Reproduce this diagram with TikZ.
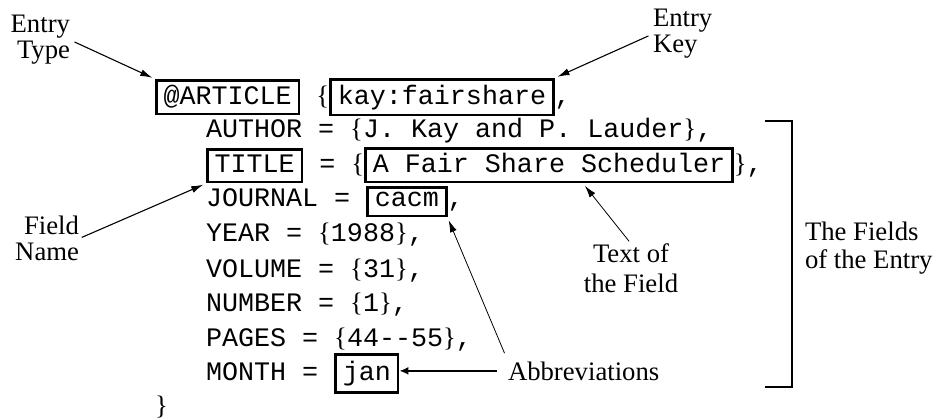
\documentclass[tikz,border=0pt]{standalone}
\usepackage{fontspec}
\setmainfont{Liberation Serif}
\setmonofont{Liberation Mono}
\usetikzlibrary{positioning,arrows.meta}
\newcommand{\obr}{{\rmfamily\{}}
\newcommand{\cbr}{{\rmfamily\}}}

\begin{document}
\begin{tikzpicture}[x=1pt,y=-1pt,->,>={Latex[length=12pt,width=7pt]},
  shorten >=3pt, line width=1.1pt, font=\fontsize{26.7}{26.5}\selectfont]
\tikzstyle{code}=[font=\fontsize{26.7}{26.5}\selectfont\ttfamily, inner sep=0pt, outer sep=0pt, anchor=base west]
\tikzstyle{bx}=[code, draw, line width=2.6pt, inner xsep=7.3pt, inner ysep=9.2pt, outer sep=1.3pt]
\tikzstyle{lbl}=[inner sep=0pt, outer sep=0pt]
\useasboundingbox (0,0) rectangle (933,419);

% the entry
\node[bx, text height=15.5pt, text depth=0pt] (atype) at (155,105) {@ARTICLE};
\node[code, base right=0pt of atype] (r0a) {\ \obr};
\node[bx, text height=16.5pt, text depth=1pt, base right=0pt of r0a] (key) {kay:fairshare};
\node[code, base right=0pt of key] (r0b) {,};
\node[code] (author) at (206,138) {AUTHOR = \obr J. Kay and P. Lauder\cbr,};
\node[bx, text height=14.5pt, text depth=0pt] (fname) at (206,173) {TITLE};
\node[code, base right=0pt of fname] (r2a) {\ = \obr};
\node[bx, text height=15.5pt, text depth=0pt, base right=0pt of r2a] (ftext) {A Fair Share Scheduler};
\node[code, base right=0pt of ftext] (r2b) {\cbr,};
\node[code] (journal) at (206,207) {JOURNAL =\ \null};
\node[bx, text height=10pt, text depth=0pt, base right=0pt of journal] (cacm) {cacm};
\node[code, base right=0pt of cacm] (r3b) {,};
\node[code] (year) at (206,242) {YEAR = \obr 1988\cbr,};
\node[code] (volume) at (206,277) {VOLUME = \obr 31\cbr,};
\node[code] (number) at (206,311) {NUMBER = \obr 1\cbr,};
\node[code] (pages) at (206,346) {PAGES = \obr 44-{}-55\cbr,};
\node[code] (month) at (206,380) {MONTH =\ \null};
\node[bx, text height=16.5pt, text depth=3.5pt, base right=0pt of month] (jan) {jan};
\node[code] (close) at (155,414) {\cbr};

% labels (base = last line)
\node[lbl, align=right, anchor=base east] (typelbl) at (70,59) {Entry\\Type};
\node[lbl, align=left, anchor=base west] (keylbl) at (653,53) {Entry\\Key};
\node[lbl, align=right, anchor=base east] (namelbl) at (79,261) {Field\\Name};
\node[lbl, align=center, anchor=base] (textlbl) at (631,292) {Text of\\[3pt]the Field};
\node[lbl, align=left, anchor=base west] (fieldslbl) at (805,269) {The Fields\\[2pt]of the Entry};
\node[lbl, anchor=base west] (abbrlbl) at (508,380) {Abbreviations};

\draw[shorten <=5pt] (typelbl.east) -- (atype.north west);
\draw[shorten <=5pt] (keylbl.west) -- (key.north east);
\draw[shorten <=3pt] (namelbl.east) -- (fname.south west);
\draw[line width=0.8pt, shorten <=3pt] (textlbl.north) -- ([xshift=34pt]ftext.south);
\draw[line width=0.8pt, shorten <=9pt] (abbrlbl.north west) -- (cacm.south east);
\draw[line width=2pt, shorten <=11pt, shorten >=0pt, >={Latex[length=9pt,width=8pt]}]
  (abbrlbl.west) -- (abbrlbl.west -| jan.east);

% bracket round the fields
\draw[-, line width=2.6pt, shorten >=0pt] (765,121) -| (792,387) -- (765,387);
\end{tikzpicture}
\end{document}
